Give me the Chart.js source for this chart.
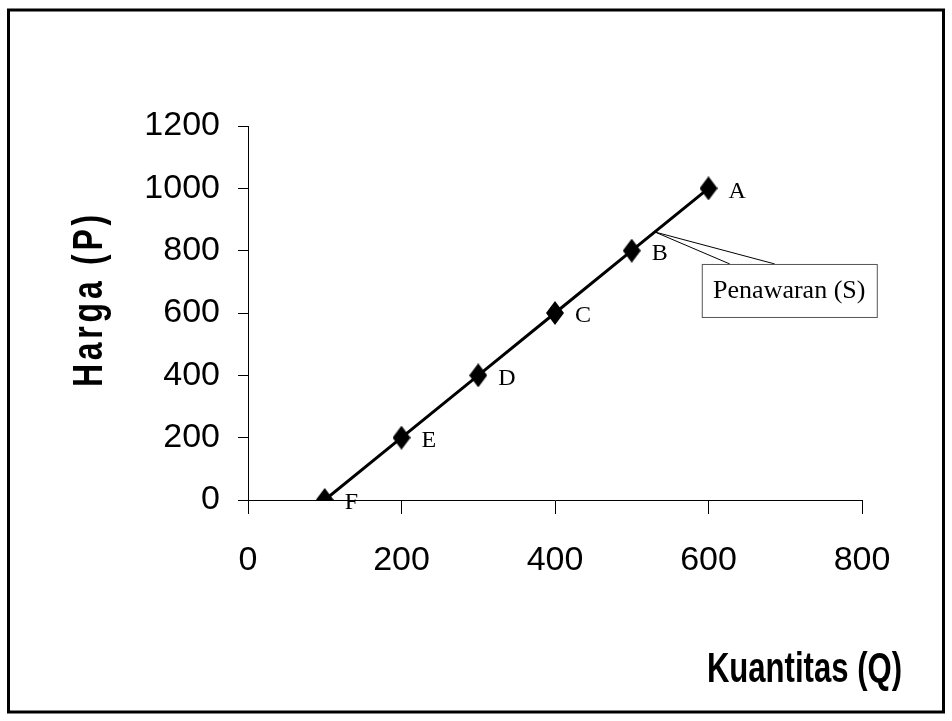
<!DOCTYPE html>
<html>
<head>
<meta charset="utf-8">
<script src="https://cdn.jsdelivr.net/npm/chart.js@4.4.1/dist/chart.umd.min.js"></script>
<style>
  html, body { margin: 0; padding: 0; background: #fff; }
  canvas { display: block; }
</style>
</head>
<body>
<canvas id="supplyChart" width="952" height="721"></canvas>
<script>
// data
const quantities = [100, 200, 300, 400, 500, 600];
const prices = [0, 200, 400, 600, 800, 1000];
const pointNames = ['F', 'E', 'D', 'C', 'B', 'A'];
const xTicks = [0, 200, 400, 600, 800];
const yTicks = [0, 200, 400, 600, 800, 1000, 1200];
const calloutText = 'Penawaran (S)';
const calloutAt = [530, 860];

const sansFont = "'Liberation Sans', Arial, sans-serif";

// diamond marker, a bit taller than wide like the original
const diamond = document.createElement('canvas');
diamond.width = 18;
diamond.height = 24;
const dctx = diamond.getContext('2d');
dctx.fillStyle = '#000';
dctx.beginPath();
dctx.moveTo(9, 0);
dctx.lineTo(18, 12);
dctx.lineTo(9, 24);
dctx.lineTo(0, 12);
dctx.closePath();
dctx.fill();

const frameAndText = {
  id: 'frameAndText',
  afterDraw(chart) {
    const { ctx, chartArea, scales } = chart;
    ctx.save();

    // outer frame
    ctx.strokeStyle = '#000';
    ctx.lineWidth = 3;
    ctx.strokeRect(8.5, 10, 935, 702);

    // point letters
    const meta = chart.getDatasetMeta(0);
    ctx.fillStyle = '#000';
    ctx.font = "24px 'Liberation Serif', 'Times New Roman', serif";
    ctx.textAlign = 'left';
    ctx.textBaseline = 'middle';
    meta.data.forEach((pt, i) => {
      ctx.fillText(pointNames[i], pt.x + 20, pt.y + 3);
    });

    // callout
    const ax = scales.x.getPixelForValue(calloutAt[0]);
    const ay = scales.y.getPixelForValue(calloutAt[1]);
    const bx = ax + 47, by = ay + 32, bw = 175, bh = 53;
    ctx.lineWidth = 1;
    ctx.strokeStyle = '#000';
    ctx.beginPath();
    ctx.moveTo(bx + 28, by);
    ctx.lineTo(ax, ay);
    ctx.lineTo(bx + 73, by);
    ctx.stroke();
    ctx.fillStyle = '#fff';
    ctx.fillRect(bx, by, bw, bh);
    ctx.strokeStyle = '#555';
    ctx.strokeRect(bx + 0.5, by + 0.5, bw, bh);
    ctx.fillStyle = '#000';
    ctx.font = "26px 'Liberation Serif', 'Times New Roman', serif";
    ctx.textAlign = 'center';
    ctx.textBaseline = 'middle';
    ctx.fillText(calloutText, bx + bw / 2, by + bh / 2 + 1);

    // axis titles (narrow look: squeeze horizontally)
    ctx.save();
    ctx.font = "bold 42px " + sansFont;
    ctx.letterSpacing = '5px';
    ctx.translate(90, (chartArea.top + chartArea.bottom) / 2 - 14);
    ctx.rotate(-Math.PI / 2);
    ctx.scale(0.76, 1);
    ctx.textAlign = 'center';
    ctx.textBaseline = 'middle';
    ctx.fillText('Harga (P)', 0, 0);
    ctx.restore();

    ctx.save();
    ctx.font = "bold 42px " + sansFont;
    ctx.translate(chartArea.right + 40, chartArea.bottom + 182);
    ctx.scale(0.74, 1);
    ctx.textAlign = 'right';
    ctx.textBaseline = 'alphabetic';
    ctx.fillText('Kuantitas (Q)', 0, 0);
    ctx.restore();

    ctx.restore();
  }
};

new Chart(document.getElementById('supplyChart'), {
  type: 'scatter',
  data: {
    datasets: [{
      label: 'Penawaran (S)',
      data: quantities.map((q, i) => ({ x: q, y: prices[i] })),
      showLine: true,
      borderColor: '#000',
      borderWidth: 3,
      pointStyle: diamond,
      pointRadius: 10,
      pointHoverRadius: 10,
      tension: 0
    }]
  },
  options: {
    responsive: false,
    animation: false,
    layout: { padding: { top: 126, right: 90, left: 0, bottom: 0 } },
    plugins: {
      legend: { display: false },
      tooltip: { enabled: false }
    },
    scales: {
      x: {
        type: 'linear',
        min: xTicks[0],
        max: xTicks[xTicks.length - 1],
        afterBuildTicks: (scale) => { scale.ticks = xTicks.map(v => ({ value: v })); },
        afterFit: (scale) => { scale.height = 221; },
        grid: { drawOnChartArea: false, color: '#000', tickLength: 14 },
        border: { color: '#000', width: 1 },
        ticks: {
          color: '#000', padding: 26, maxRotation: 0,
          font: { family: sansFont, size: 34 },
          callback: (v) => String(v)
        }
      },
      y: {
        min: yTicks[0],
        max: yTicks[yTicks.length - 1],
        afterBuildTicks: (scale) => { scale.ticks = yTicks.map(v => ({ value: v })); },
        afterFit: (scale) => { scale.width = 248; },
        grid: { drawOnChartArea: false, color: '#000', tickLength: 10 },
        border: { color: '#000', width: 1 },
        ticks: {
          color: '#000', padding: 18,
          font: { family: sansFont, size: 34 },
          callback: (v) => String(v)
        }
      }
    }
  },
  plugins: [frameAndText]
});
</script>
</body>
</html>
